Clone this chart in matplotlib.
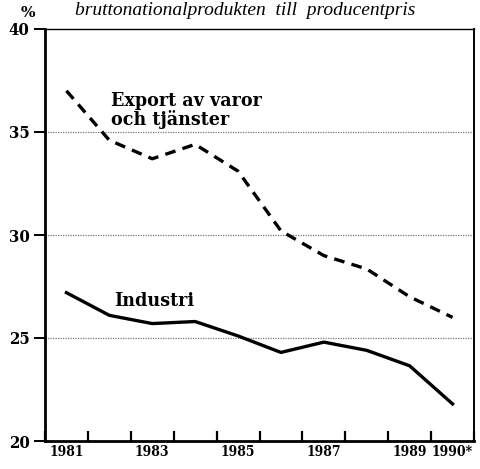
import numpy as np
import matplotlib
matplotlib.use("Agg")
import matplotlib.pyplot as plt

# Data (share of GDP at producer prices, %)
years = [1981, 1982, 1983, 1984, 1985, 1986, 1987, 1988, 1989, 1990]
export = [37.0, 34.6, 33.7, 34.4, 33.1, 30.2, 29.0, 28.35, 27.0, 26.0]
industri = [27.2, 26.1, 25.7, 25.8, 25.1, 24.3, 24.8, 24.4, 23.65, 21.8]
year_labels = ['1981', '1983', '1985', '1987', '1989', '1990*']
label_years = [1981, 1983, 1985, 1987, 1989, 1990]

plt.rcParams['font.family'] = ['Liberation Serif', 'DejaVu Serif']

fig = plt.figure(figsize=(4.81, 4.69), dpi=100)
ax = fig.add_axes([45 / 481, 1 - 441 / 469, 429 / 481, 412 / 469])

x = np.array(years) + 0.5  # points sit in the middle of each year
ax.plot(x, export, color='black', lw=2.4, ls=(0, (3.2, 2.2)), zorder=3)
ax.plot(x, industri, color='black', lw=2.4, zorder=3)

ax.set_xlim(1981, 1991)
ax.set_ylim(20, 40)

# horizontal dotted grid
for v in [25, 30, 35]:
    ax.axhline(v, color='#777777', lw=0.9, ls=(0, (1, 1)), zorder=1)

tick_font = dict(family='DejaVu Serif', fontstretch='condensed', fontweight='bold')

ax.set_xticks(range(1981, 1992))
ax.set_xticklabels([])
ax.set_xticks(np.array(label_years) + 0.5, minor=True)
ax.set_xticklabels(year_labels, minor=True, fontsize=10, **tick_font)
ax.tick_params(axis='x', which='major', direction='in', length=7, width=1.6)
ax.tick_params(axis='x', which='minor', length=0, pad=3)

ax.set_yticks([20, 25, 30, 35, 40])
ax.set_yticklabels(['20', '25', '30', '35', '40'], fontsize=12, **tick_font)
ax.tick_params(axis='y', direction='out', length=8, width=1.4, pad=3)

ax.spines['left'].set_linewidth(2.0)
ax.spines['bottom'].set_linewidth(2.0)
ax.spines['right'].set_linewidth(1.4)
ax.spines['top'].set_linewidth(1.0)

label_font = dict(family='DejaVu Serif', fontstretch='condensed', fontsize=14,
                  fontweight='bold')
ax.text(1982.55, 36.05, 'Export av varor\noch tjänster', ha='left', va='center',
        linespacing=1.0, **label_font)
ax.text(1982.6, 26.8, 'Industri', ha='left', va='center', **label_font)

fig.text(0.057, 0.972, '%', fontsize=11, fontweight='bold', ha='center', va='center',
         family='DejaVu Serif')
fig.text(0.51, 1 - 15 / 469, 'bruttonationalprodukten  till  producentpris',
         fontsize=14, style='italic', ha='center', va='baseline')

fig.savefig('out.png', dpi=100)
